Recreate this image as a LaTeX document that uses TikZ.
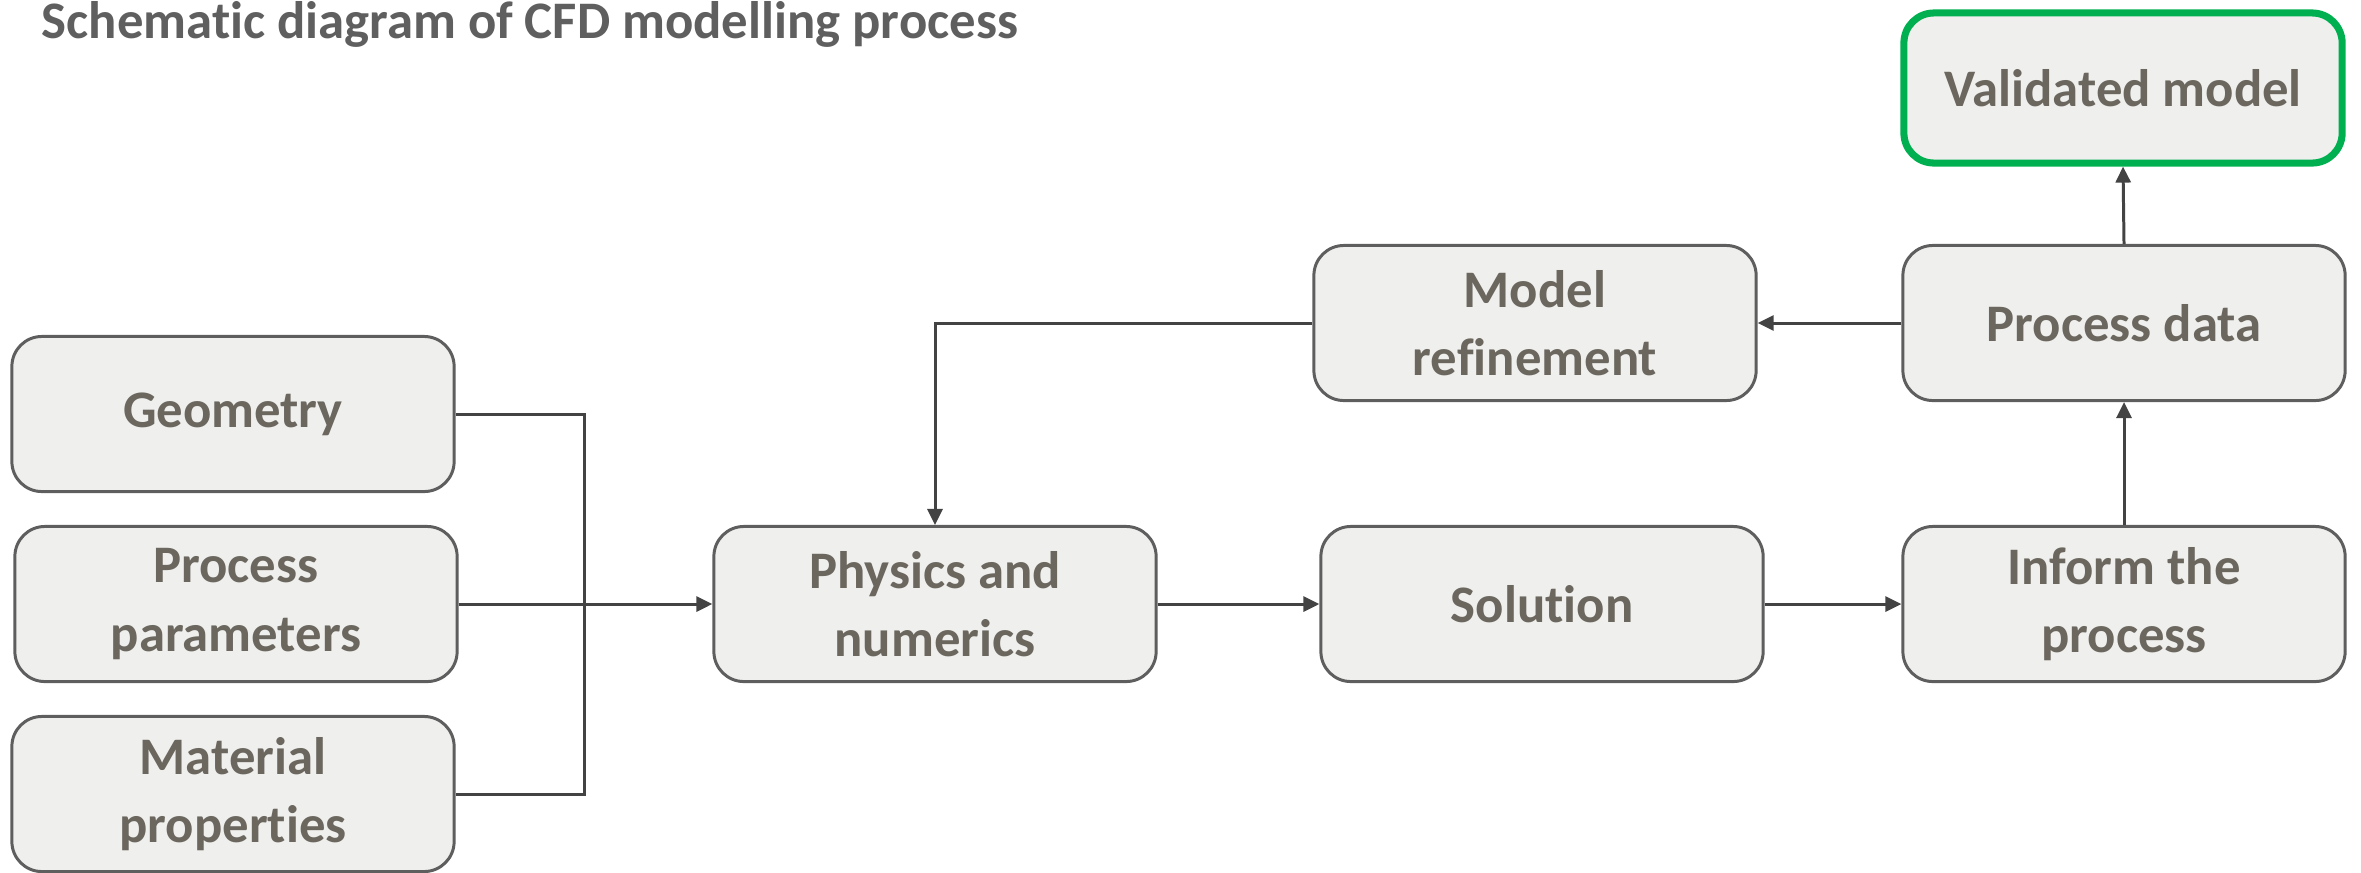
\documentclass[tikz,border=0pt]{standalone}
\usepackage{fontspec}
\setmainfont[RawFeature={-liga;-dlig}]{Carlito}
\usetikzlibrary{arrows.meta,calc}
\definecolor{boxfill}{HTML}{EFEFED}
\definecolor{boxline}{HTML}{5E5E5E}
\definecolor{boxtext}{HTML}{6B675F}
\definecolor{titletext}{HTML}{5F5F5F}
\definecolor{conncol}{HTML}{434343}
\definecolor{okgreen}{HTML}{00B050}
\tikzset{
  stepbox/.style={draw=boxline, line width=0.85pt, fill=boxfill, rounded corners=0.3cm,
    minimum width=4.42cm, minimum height=1.55cm, align=center, text=boxtext,
    font=\fontsize{15}{19.5}\selectfont\bfseries, inner sep=0pt},
  goalbox/.style={stepbox, draw=okgreen, line width=2pt, minimum width=4.38cm, minimum height=1.50cm},
  conn/.style={draw=conncol, line width=0.85pt},
  arr/.style={conn, -{Triangle[length=0.16cm,width=0.15cm]}}
}
\begin{document}
\begin{tikzpicture}[x=0.01cm, y=-0.01cm]
\useasboundingbox (0,0) rectangle (2361,872);

% title
\node[anchor=base west, inner sep=0pt, text=titletext, font=\fontsize{15}{18}\selectfont\bfseries]
  (title) at (41,38) {Schematic diagram of CFD modelling process};

% input boxes
\node[stepbox] (geo) at (233,414) {Geometry};
\node[stepbox] (pp)  at (236,604) {Process\\parameters};
\node[stepbox] (mat) at (233,794) {Material\\properties};

% main chain
\node[stepbox] (phy) at (935,604)  {Physics and\\numerics};
\node[stepbox] (sol) at (1542,604) {Solution};
\node[stepbox] (inf) at (2124,604) {Inform the\\process};
\node[stepbox] (pd)  at (2124,323) {Process data};
\node[stepbox] (mr)  at (1535,323) {Model\\refinement};
\node[goalbox] (val) at (2123,88)  {Validated model};

% merging the inputs
\coordinate (jt) at (584,414);
\coordinate (jb) at (584,794);
\draw[conn] (geo.east) -- (jt) -- (jb) -- (mat.east);
\draw[arr] (pp.east) -- (phy.west);

% flow
\draw[arr] (phy.east) -- (sol.west);
\draw[arr] (sol.east) -- (inf.west);
\draw[arr] (inf.north) -- (pd.south);
\draw[arr] (pd.north) -- (val.south);
\draw[arr] (pd.west) -- (mr.east);
\draw[arr] (mr.west) -| (phy.north);
\end{tikzpicture}
\end{document}
